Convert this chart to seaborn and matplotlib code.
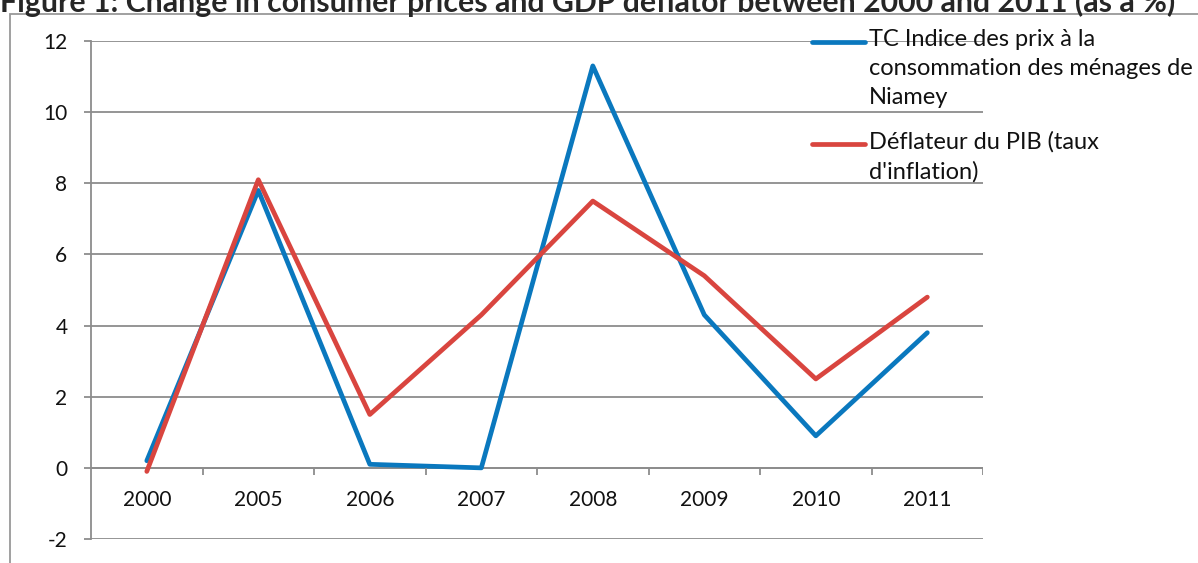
import numpy as np
import pandas as pd
from matplotlib import pyplot as plt
from matplotlib.patches import Rectangle
import seaborn as sns

years = ['2000', '2005', '2006', '2007', '2008', '2009', '2010', '2011']
ipc_niamey = [0.2, 7.8, 0.1, 0.0, 11.3, 4.3, 0.9, 3.8]
deflateur_pib = [-0.1, 8.1, 1.5, 4.3, 7.5, 5.4, 2.5, 4.8]
series_names = ['TC Indice des prix à la\nconsommation des ménages de\nNiamey',
                "Déflateur du PIB (taux\nd'inflation)"]
colors = ['#0A78BE', '#D9453F']
yticks = [-2, 0, 2, 4, 6, 8, 10, 12]

data = pd.DataFrame({
    'year': years * 2,
    'value': ipc_niamey + deflateur_pib,
    'serie': [series_names[0]] * len(years) + [series_names[1]] * len(years),
})

sns.set_style('white')
plt.rcParams['font.family'] = ['Lato', 'DejaVu Sans']
plt.rcParams['axes.unicode_minus'] = False

fig = plt.figure(figsize=(11.98, 5.63), dpi=100)
ax = fig.add_axes([0.0760, 0.0426, 0.7446, 0.8846])

grey = '#8c8c8c'
txt = '#111111'
ax.set_ylim(-2, 12)
ax.set_xlim(-0.5, len(years) - 0.5)
ax.set_yticks(yticks)
ax.yaxis.grid(True, color=grey, lw=1.3)
ax.set_axisbelow(True)
for s in ['top', 'right', 'bottom']:
    ax.spines[s].set_visible(False)
ax.spines['left'].set_color(grey)
ax.spines['left'].set_linewidth(1.3)
ax.tick_params(axis='y', left=True, length=5, width=1.3, color=grey,
               pad=12, labelsize=15, labelcolor=txt)
ax.tick_params(axis='x', bottom=False, labelbottom=False)

sns.lineplot(data=data, x='year', y='value', hue='serie', palette=colors,
             linewidth=3.4, legend=False, ax=ax, sort=False)
series_lines = list(ax.lines[:2])

# category axis at zero with boundary ticks
ax.axhline(0, color=grey, lw=1.3, zorder=1)
ax.vlines(np.arange(len(years)) + 0.5, -0.2, 0, color=grey, lw=1.3)
for i, yr in enumerate(years):
    ax.text(i, -0.9, yr, ha='center', va='center', fontsize=15, color=txt)
ax.set_xlabel('')
ax.set_ylabel('')

leg = ax.legend(series_lines, series_names, loc='upper left',
                bbox_to_anchor=(812 / 1198, 1 - 29 / 563),
                bbox_transform=fig.transFigure, frameon=False, fontsize=17,
                handlelength=2.25, handletextpad=0.15, borderpad=0,
                borderaxespad=0, labelspacing=0.95)
for t in leg.get_texts():
    t.set_linespacing(1.48)
    t.set_color(txt)

# chart frame and title
fig.add_artist(Rectangle((10 / 1198, -0.1), 1.2, 1 - 14 / 563 + 0.1,
                         transform=fig.transFigure, fill=False,
                         edgecolor='#999999', lw=1.3))
fig.text(0.0, 1 - 12 / 563,
         'Figure 1: Change in consumer prices and GDP deflator between 2000 and 2011 (as a %)',
         fontsize=21.8, fontweight='bold', va='baseline', ha='left')

# put each legend handle next to the first line of its label
fig.canvas.draw()
r = fig.canvas.get_renderer()
for h, t, lbl in zip(leg.legend_handles, leg.get_texts(), series_names):
    h.set_linewidth(3.4)
    n_lines = lbl.count('\n') + 1
    tb = t.get_window_extent(r)
    first_center = tb.y1 - tb.height / n_lines / 2
    hy = h.get_window_extent(r)
    cur = (hy.y0 + hy.y1) / 2
    h.set_ydata(np.asarray(h.get_ydata()) + (first_center - cur) * 72 / fig.dpi)

fig.savefig('out.png', dpi=100)
